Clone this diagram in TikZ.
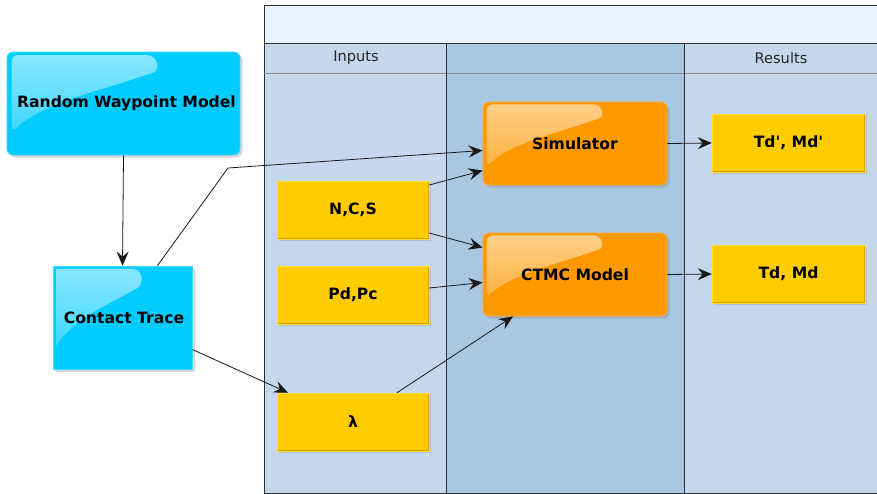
\documentclass[tikz,border=0pt]{standalone}
\usepackage{fontspec}
\setmainfont{DejaVu Sans}
\usetikzlibrary{arrows.meta,calc,shadows,fadings}

\definecolor{poolline}{HTML}{2F2F2F}
\definecolor{titleband}{HTML}{EBF3FE}
\definecolor{lanelight}{HTML}{C5D7EC}
\definecolor{lanedark}{HTML}{A9C7E1}
\definecolor{cyanbox}{HTML}{00CCFF}
\definecolor{cyanedge}{HTML}{3FDBFF}
\definecolor{orangebox}{HTML}{FF9900}
\definecolor{orangeedge}{HTML}{FFAA33}
\definecolor{yellowbox}{HTML}{FFCC00}
\definecolor{yellowdark}{HTML}{CFA400}
\definecolor{yellowlight}{HTML}{FFDD33}

\tikzfading[name=glossfade, top color=transparent!45, bottom color=transparent!85]

\tikzset{
  lbl/.style={font=\bfseries\fontsize{15.6}{18}\selectfont, text=black},
  gloss/.style={path picture={
    \fill[white, path fading=glossfade]
      let \p1=(path picture bounding box.north west),
          \p2=(path picture bounding box.south east),
          \n1={\x2-\x1}, \n2={\y1-\y2} in
      ({\x1+0.02*\n1},{\y1-0.03*\n2})
      -- ({\x1+0.57*\n1},{\y1-0.03*\n2})
      .. controls ({\x1+0.65*\n1},{\y1-0.03*\n2}) and ({\x1+0.66*\n1},{\y1-0.18*\n2}) .. ({\x1+0.60*\n1},{\y1-0.22*\n2})
      .. controls ({\x1+0.42*\n1},{\y1-0.36*\n2}) and ({\x1+0.15*\n1},{\y1-0.50*\n2}) .. ({\x1+0.02*\n1},{\y1-0.78*\n2})
      -- cycle;}},
  yedge/.style={path picture={
    \draw[yellowdark, line width=2.4pt]
      (path picture bounding box.south west) -- (path picture bounding box.south east)
      -- (path picture bounding box.north east);}},
  bluebox/.style={lbl, draw=cyanedge, line width=0.8pt, fill=cyanbox, gloss,
    drop shadow={shadow xshift=2.5pt, shadow yshift=-2.5pt, opacity=0.3}},
  procbox/.style={lbl, draw=orangeedge, line width=0.8pt, fill=orangebox,
    rounded corners=6pt, gloss, minimum width=184pt, minimum height=83pt,
    drop shadow={shadow xshift=2.5pt, shadow yshift=-2.5pt, opacity=0.3}},
  databox/.style={lbl, fill=yellowbox, draw=yellowlight, line width=0.6pt, yedge,
    minimum width=152pt, minimum height=58pt,
    drop shadow={shadow xshift=1.5pt, shadow yshift=-1.5pt, opacity=0.25}},
  flow/.style={draw=black!90, line width=0.8pt,
    -{Stealth[length=14pt, width=12pt, inset=5pt]}},
  lanehead/.style={font=\fontsize{14.6}{17}\selectfont, text=black!85},
}

\begin{document}
\begin{tikzpicture}[x=1pt, y=-1pt]
\useasboundingbox (0,0) rectangle (877,493);

% pool: title band, lanes and header row
\fill[titleband] (264,5) rectangle (877,43);
\fill[lanelight] (264,43) rectangle (446,493);
\fill[lanedark] (446,43) rectangle (684,493);
\fill[lanelight] (684,43) rectangle (877,493);
\draw[poolline, line width=0.8pt] (264,493) -- (264,5) -- (877,5) -- (877,493) -- cycle;
\draw[poolline, line width=0.8pt] (264,43) -- (877,43);
\draw[black!45, line width=0.8pt] (264,73) -- (877,73);
\draw[poolline, line width=0.8pt] (446,43) -- (446,493);
\draw[poolline, line width=0.8pt] (684,43) -- (684,493);
\node[lanehead] (hin) at (356,58) {Inputs};
\node[lanehead] (hres) at (781,58) {Results};

% model boxes
\node[bluebox, rounded corners=6pt, minimum width=233pt, minimum height=103pt]
  (rwm) at (123.5,103.5) {\hspace*{6pt}Random Waypoint Model};
\node[bluebox, minimum width=139pt, minimum height=103pt]
  (ct) at (122.5,317.5) {\hspace*{3pt}Contact Trace};

% inputs
\node[databox] (ncs) at (353,210) {N,C,S};
\node[databox] (pdpc) at (353,295) {Pd,Pc};
\node[databox] (lam) at (353,422) {λ};

% processes
\node[procbox] (sim) at (575,143.5) {Simulator};
\node[procbox] (ctmc) at (575,274.5) {CTMC Model};

% results
\node[databox, minimum width=153pt] (tdp) at (788.5,143) {Td\textquotesingle, Md\textquotesingle};
\node[databox, minimum width=153pt] (td) at (788.5,274) {Td, Md};

% connectors
\coordinate (bend) at (228,168);
\draw[flow] (rwm.south) -- (ct.north);
\draw[flow] ([xshift=35pt]ct.north) -- (bend) -- ([yshift=-7pt]sim.west);
\draw[flow] ([yshift=25pt]ncs.east) -- ([yshift=-27pt]sim.west);
\draw[flow] ([yshift=-23pt]ncs.east) -- ([yshift=27pt]ctmc.west);
\draw[flow] ([yshift=7pt]pdpc.east) -- ([yshift=-8pt]ctmc.west);
\draw[flow] ([xshift=44pt]lam.north) -- ([xshift=-62pt]ctmc.south);
\draw[flow] ([yshift=-32pt]ct.east) -- ([xshift=-65pt]lam.north);
\draw[flow] (sim.east) -- (tdp.west);
\draw[flow] (ctmc.east) -- (td.west);
\end{tikzpicture}
\end{document}
